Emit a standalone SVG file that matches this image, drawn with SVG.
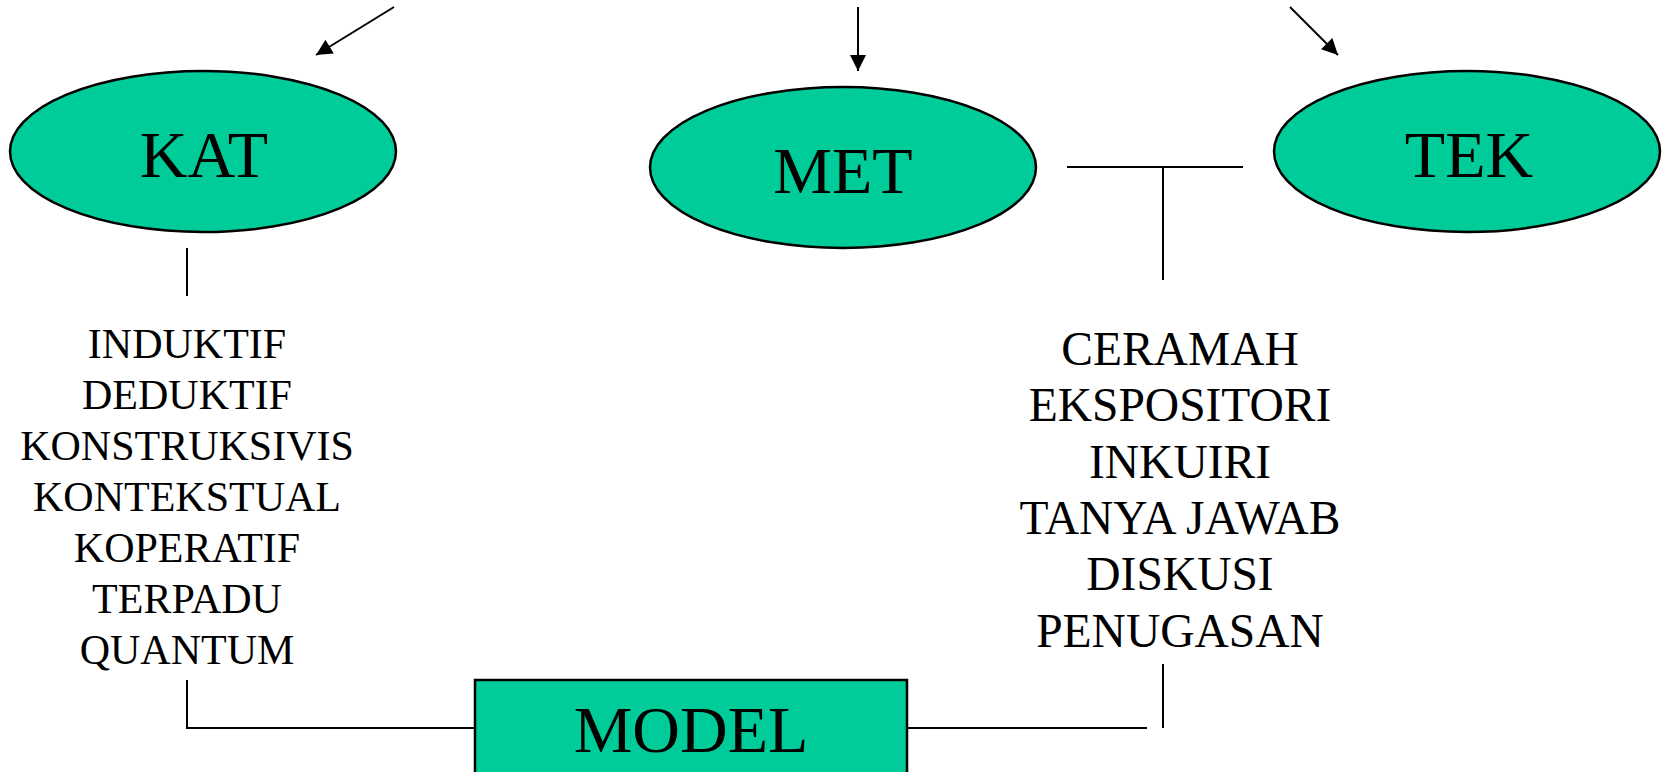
<svg xmlns="http://www.w3.org/2000/svg" width="1665" height="772" viewBox="0 0 1665 772">
<style>
.node{fill:#00CC99;stroke:#000;stroke-width:2.5}
.big{font-family:"Liberation Serif","Times New Roman",serif;font-size:66px;fill:#000;text-anchor:middle}
.l1{font-family:"Liberation Serif","Times New Roman",serif;font-size:42px;fill:#000;text-anchor:middle}
.l2{font-family:"Liberation Serif","Times New Roman",serif;font-size:47.5px;fill:#000;text-anchor:middle}
.c{stroke:#000;stroke-width:2;fill:none}
</style>
<defs>
<marker id="ah" viewBox="0 0 10 10" refX="10" refY="5" markerWidth="9" markerHeight="9" markerUnits="userSpaceOnUse" orient="auto">
<path d="M0,0 L10,5 L0,10 z" fill="#000"/>
</marker>
<marker id="ahb" viewBox="0 0 10 10" refX="10" refY="5" markerWidth="18" markerHeight="16" markerUnits="userSpaceOnUse" orient="auto">
<path d="M0,0 L10,5 L0,10 z" fill="#000"/>
</marker>
</defs>
<g id="connectors">
<line class="c" x1="394" y1="7" x2="316" y2="55" marker-end="url(#ahb)"/>
<line class="c" x1="858" y1="7" x2="858" y2="71" marker-end="url(#ahb)"/>
<line class="c" x1="1290" y1="7" x2="1338" y2="55" marker-end="url(#ahb)"/>
<line class="c" x1="187" y1="248" x2="187" y2="296"/>
<line class="c" x1="1067" y1="167" x2="1243" y2="167"/>
<line class="c" x1="1163" y1="167" x2="1163" y2="280"/>
<polyline class="c" points="187,680 187,728 475,728"/>
<line class="c" x1="907" y1="728" x2="1147" y2="728"/>
<line class="c" x1="1163" y1="664" x2="1163" y2="728"/>
</g>
<g id="kat">
<ellipse class="node" cx="203" cy="151.5" rx="193" ry="80.5"/>
<text class="big" x="204" y="177">KAT</text>
</g>
<g id="met">
<ellipse class="node" cx="843" cy="167.5" rx="193" ry="80.5"/>
<text class="big" x="843" y="193">MET</text>
</g>
<g id="tek">
<ellipse class="node" cx="1467" cy="151.5" rx="193" ry="80.5"/>
<text class="big" x="1469" y="177">TEK</text>
</g>
<g id="kat-list">
<text class="l1" x="187" y="358">INDUKTIF</text>
<text class="l1" x="187" y="409">DEDUKTIF</text>
<text class="l1" x="187" y="460">KONSTRUKSIVIS</text>
<text class="l1" x="187" y="511">KONTEKSTUAL</text>
<text class="l1" x="187" y="562">KOPERATIF</text>
<text class="l1" x="187" y="613">TERPADU</text>
<text class="l1" x="187" y="664">QUANTUM</text>
</g>
<g id="met-list">
<text class="l2" x="1180" y="365">CERAMAH</text>
<text class="l2" x="1180" y="421">EKSPOSITORI</text>
<text class="l2" x="1180" y="478">INKUIRI</text>
<text class="l2" x="1180" y="534">TANYA JAWAB</text>
<text class="l2" x="1180" y="590">DISKUSI</text>
<text class="l2" x="1180" y="647">PENUGASAN</text>
</g>
<g id="model">
<rect class="node" x="475" y="680" width="432" height="110"/>
<text class="big" x="691" y="752">MODEL</text>
</g>
</svg>
